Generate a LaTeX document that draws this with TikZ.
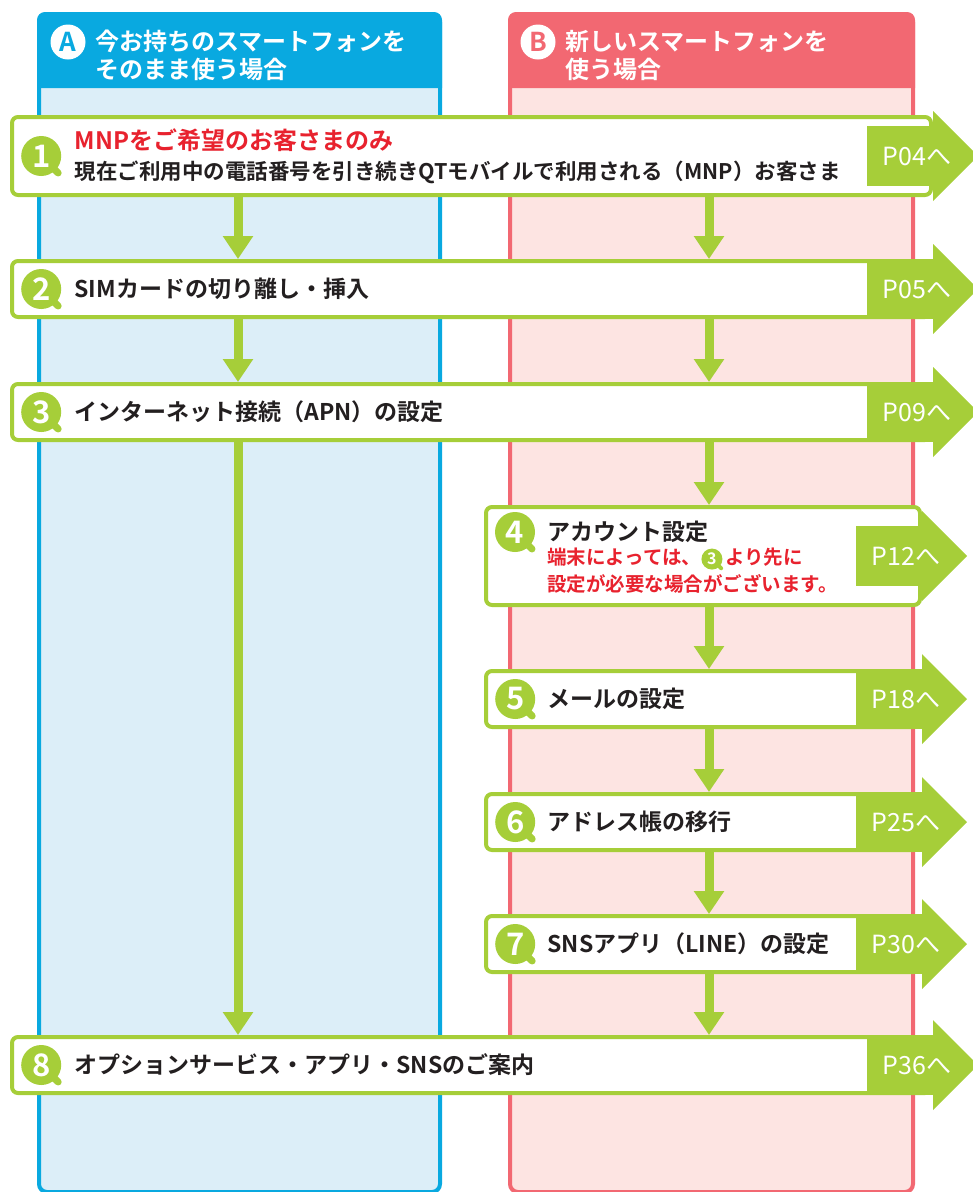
\documentclass[tikz,border=0pt]{standalone}
\usepackage{fontspec}
\setmainfont{Noto Sans CJK JP}[BoldFont={Noto Sans CJK JP Bold}]
\usetikzlibrary{positioning,arrows.meta}

\definecolor{qtgreen}{HTML}{A6CE39}
\definecolor{qtred}{HTML}{E8222E}
\definecolor{qtink}{HTML}{231F20}
\definecolor{laneblue}{HTML}{09A9E0}
\definecolor{laneblueback}{HTML}{DCEEF8}
\definecolor{lanepink}{HTML}{F26872}
\definecolor{lanepinkback}{HTML}{FDE4E2}

\tikzset{
  lanebox/.style={anchor=north west, line width=4pt, rounded corners=8pt, inner sep=0pt},
  headbadge/.style={circle, fill=white, minimum size=35pt, inner sep=0pt,
    font=\bfseries\fontsize{26}{26}\selectfont},
  headtext/.style={anchor=north west, inner sep=0pt, text=white, align=left,
    font=\bfseries\fontsize{24}{28}\selectfont},
  stepbox/.style={anchor=north west, draw=qtgreen, fill=white, line width=4pt,
    rounded corners=6pt, inner sep=0pt},
  badge/.style={circle, fill=qtgreen, text=white, minimum size=40pt, inner sep=0pt,
    font=\bfseries\fontsize{31}{31}\selectfont},
  steptext/.style={inner sep=0pt, text=qtink, align=left,
    font=\bfseries\fontsize{23}{27}\selectfont},
  note/.style={anchor=north west, inner sep=0pt, text=qtred, align=left,
    font=\bfseries\fontsize{19.5}{27}\selectfont},
  pagelabel/.style={inner sep=0pt, text=white, font=\fontsize{25}{25}\selectfont},
  flow/.style={qtgreen, line width=9pt, -{Triangle[width=29pt,length=23pt]}},
  minibadge/.style={circle, fill=qtgreen, text=white, minimum size=21pt, inner sep=0pt,
    font=\bfseries\fontsize{16}{16}\selectfont},
}

% small step number inside a line of text
\newcommand{\minibadge}[1]{\tikz[baseline=(mb.base)]{\node[minibadge] (mb) {#1};
  \draw[qtgreen, line width=4pt, line cap=round] (mb.center) ++(-45:10pt) -- ++(-45:3pt);}}

\begin{document}
\begin{tikzpicture}[x=1pt, y=-1pt]
\useasboundingbox (0,0) rectangle (973,1192);

% lanes
\node[lanebox, draw=laneblue, fill=laneblueback, minimum width=401pt, minimum height=1178pt] (laneA) at (37,12) {};
\node[lanebox, draw=lanepink, fill=lanepinkback, minimum width=403pt, minimum height=1178pt] (laneB) at (508,12) {};
\fill[laneblue] ([yshift=-76pt]laneA.north west) [rounded corners=8pt] -- (laneA.north west)
  -- (laneA.north east) [sharp corners] -- ([yshift=-76pt]laneA.north east) -- cycle;
\fill[lanepink] ([yshift=-76pt]laneB.north west) [rounded corners=8pt] -- (laneB.north west)
  -- (laneB.north east) [sharp corners] -- ([yshift=-76pt]laneB.north east) -- cycle;

\node[headbadge, text=laneblue] (hA) at (68,42) {A};
\node[headtext] (headA) at ([xshift=9.5pt,yshift=12pt]hA.east) {今お持ちのスマートフォンを\\そのまま使う場合};
\node[headbadge, text=lanepink] (hB) at (538,42) {B};
\node[headtext] (headB) at ([xshift=9.5pt,yshift=12pt]hB.east) {新しいスマートフォンを\\使う場合};

% steps
\node[stepbox, minimum width=919pt, minimum height=78pt] (s1) at (10,115) {};
\node[stepbox, minimum width=919pt, minimum height=56pt] (s2) at (10,259) {};
\node[stepbox, minimum width=919pt, minimum height=56pt] (s3) at (10,382) {};
\node[stepbox, minimum width=434pt, minimum height=98pt] (s4) at (484,505) {};
\node[stepbox, minimum width=434pt, minimum height=56pt] (s5) at (484,669) {};
\node[stepbox, minimum width=434pt, minimum height=56pt] (s6) at (484,792) {};
\node[stepbox, minimum width=434pt, minimum height=56pt] (s7) at (484,914) {};
\node[stepbox, minimum width=919pt, minimum height=56pt] (s8) at (10,1035) {};

% page pointers
\foreach \stp/\pg in {s1/04,s2/05,s3/09,s4/12,s5/18,s6/25,s7/30,s8/36} {
  \fill[qtgreen] ([xshift=-66pt,yshift=30pt]\stp.east) rectangle ([yshift=-30pt]\stp.east);
  \fill[qtgreen] ([yshift=45pt]\stp.east) -- ([xshift=45pt]\stp.east) -- ([yshift=-45pt]\stp.east) -- cycle;
  \node[pagelabel] (p\pg) at ([xshift=-16pt]\stp.east) {P\pg へ};
}

% flows
\coordinate (ca) at (238,0);
\coordinate (cb) at (709,0);
\foreach \a/\b in {s1/s2,s2/s3,s3/s8}
  \draw[flow] (\a.south -| ca) -- (\b.north -| ca);
\foreach \a/\b in {s1/s2,s2/s3,s3/s4,s4/s5,s5/s6,s6/s7,s7/s8}
  \draw[flow] (\a.south -| cb) -- (\b.north -| cb);

% numbers
\node[badge, right=11pt of s1.west] (b1) {1};
\node[badge, right=11pt of s2.west] (b2) {2};
\node[badge, right=11pt of s3.west] (b3) {3};
\node[badge] (b4) at ([xshift=31pt,yshift=-27pt]s4.north west) {4};
\node[badge, right=11pt of s5.west] (b5) {5};
\node[badge, right=11pt of s6.west] (b6) {6};
\node[badge, right=11pt of s7.west] (b7) {7};
\node[badge, right=11pt of s8.west] (b8) {8};
\foreach \b in {b1,b2,b3,b4,b5,b6,b7,b8}
  \draw[qtgreen, line width=7pt, line cap=round] (\b.center) ++(-45:19pt) -- ++(-45:5pt);

% texts
\node[steptext, right=13pt of b1, font=\bfseries\fontsize{21.5}{30}\selectfont] (t1)
  {\textcolor{qtred}{\fontsize{24}{30}\selectfont MNPをご希望のお客さまのみ}\\
   現在ご利用中の電話番号を引き続きQTモバイルで利用される（MNP）お客さま};
\node[steptext, right=13pt of b2] (t2) {SIMカードの切り離し・挿入};
\node[steptext, right=13pt of b3] (t3) {インターネット接続（APN）の設定};
\node[steptext, right=12pt of b4] (t4) {アカウント設定};
\node[note] (n4) at ([yshift=-5pt]t4.south west)
  {端末によっては、\minibadge{3}\hspace{2pt}より先に\\設定が必要な場合がございます。};
\node[steptext, right=12pt of b5] (t5) {メールの設定};
\node[steptext, right=12pt of b6] (t6) {アドレス帳の移行};
\node[steptext, right=12pt of b7] (t7) {SNSアプリ（LINE）の設定};
\node[steptext, right=13pt of b8] (t8) {オプションサービス・アプリ・SNSのご案内};
\end{tikzpicture}
\end{document}
